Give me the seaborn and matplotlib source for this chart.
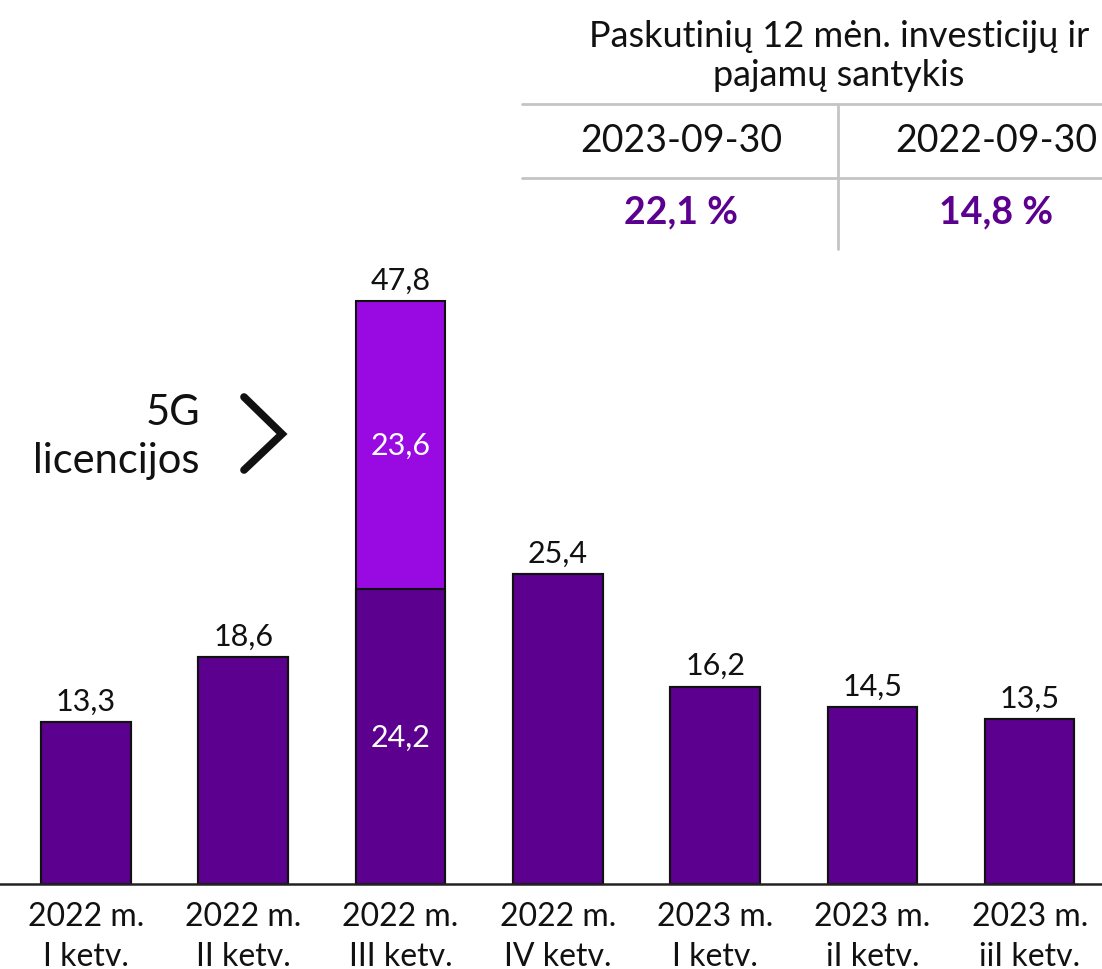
import matplotlib
matplotlib.use('Agg')
import matplotlib.pyplot as plt
import pandas as pd
import seaborn as sns

# ── Data ─────────────────────────────────────────────────────────────────────
quarters = ['2022 m.\nI ketv.', '2022 m.\nII ketv.', '2022 m.\nIII ketv.', '2022 m.\nIV ketv.',
            '2023 m.\nI ketv.', '2023 m.\niI ketv.', '2023 m.\niiI ketv.']
base_capex = [13.3, 18.6, 24.2, 25.4, 16.2, 14.5, 13.5]
license_5g = [0, 0, 23.6, 0, 0, 0, 0]

table_title = 'Paskutinių 12 mėn. investicijų ir\npajamų santykis'
table_dates = ['2023-09-30', '2022-09-30']
table_values = ['22,1 %', '14,8 %']

DARK = '#5c008f'
BRIGHT = '#990ae3'

fmt = lambda v: f'{v:.1f}'.replace('.', ',')

df = pd.DataFrame({'quarter': quarters, 'base': base_capex, 'lic': license_5g})
df['total'] = df['base'] + df['lic']

# ── Figure ───────────────────────────────────────────────────────────────────
sns.set_theme(style='white')
plt.rcParams['font.family'] = ['Lato', 'DejaVu Sans']

fig = plt.figure(figsize=(11.02, 9.70), dpi=100)
ax = fig.add_axes([0, (970 - 885) / 970, 1, (885 - 250) / 970])

sns.barplot(data=df, x='quarter', y='total', color=BRIGHT, width=0.57,
            edgecolor='#111111', linewidth=1.5, saturation=1, ax=ax)
sns.barplot(data=df, x='quarter', y='base', color=DARK, width=0.57,
            edgecolor='#111111', linewidth=1.5, saturation=1, ax=ax)

ax.set_xlim(-0.547, 6.46)
ax.set_ylim(0, 52.1)
ax.set_xlabel('')
ax.set_ylabel('')
ax.set_yticks([])
for s in ['top', 'right', 'left']:
    ax.spines[s].set_visible(False)
ax.spines['bottom'].set_color('#222222')
ax.spines['bottom'].set_linewidth(1.8)
ax.tick_params(axis='x', length=0, pad=12, labelsize=23, colors='#111111')
for lbl in ax.get_xticklabels():
    lbl.set_linespacing(1.45)

# value labels
for i, row in df.iterrows():
    ax.text(i, row['total'] + 0.6, fmt(row['total']), ha='center', va='bottom',
            fontsize=22, color='#111111')
    if row['lic'] > 0:
        ax.text(i, row['base'] / 2, fmt(row['base']), ha='center', va='center',
                fontsize=22, color='white')
        ax.text(i, row['base'] + row['lic'] / 2, fmt(row['lic']), ha='center',
                va='center', fontsize=22, color='white')

# 5G annotation with chevron
fig.text(200 / 1102, 1 - 437 / 970, '5G\nlicencijos', ha='right', va='center',
         fontsize=30, color='#111111', linespacing=1.3)
fig.add_artist(plt.Line2D([244 / 1102, 282 / 1102, 244 / 1102],
                          [1 - 398 / 970, 1 - 435 / 970, 1 - 471 / 970],
                          color='#111111', lw=5.5, solid_capstyle='round',
                          solid_joinstyle='miter'))

# ── Ratio table ──────────────────────────────────────────────────────────────
fig.text(839 / 1102, 1 - 56 / 970, table_title, ha='center', va='center',
         fontsize=26, color='#111111', linespacing=1.25)
grey = '#c4c4c4'
for yy in [105, 179]:
    fig.add_artist(plt.Line2D([522 / 1102, 1], [1 - yy / 970] * 2, color=grey, lw=2))
fig.add_artist(plt.Line2D([838 / 1102] * 2, [1 - 105 / 970, 1 - 250 / 970], color=grey, lw=2))
for cx, d, v in zip([681, 996], table_dates, table_values):
    fig.text(cx / 1102, 1 - 141 / 970, d, ha='center', va='center', fontsize=27, color='#111111')
    fig.text(cx / 1102, 1 - 212 / 970, v, ha='center', va='center', fontsize=27,
             color='#5c008f', fontweight='bold')

fig.savefig('out.png', dpi=100)
